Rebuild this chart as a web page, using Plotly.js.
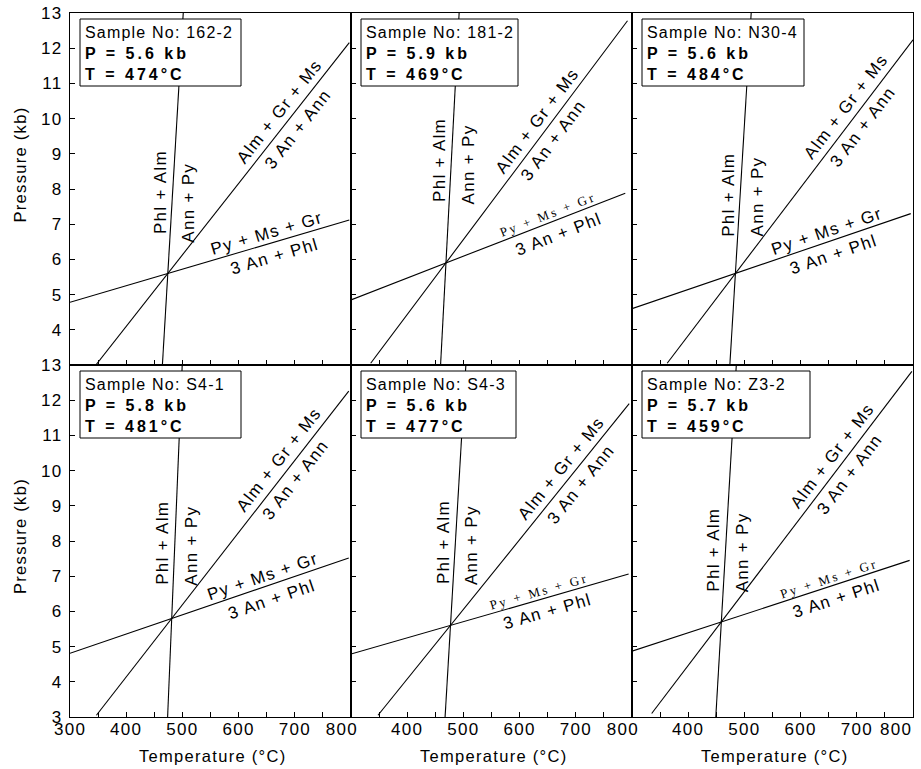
<!DOCTYPE html>
<html>
<head>
<meta charset="utf-8">
<script src="https://cdn.plot.ly/plotly-3.0.1.min.js"></script>
<style>
  html, body { margin: 0; padding: 0; background: #ffffff; }
  #chart { width: 921px; height: 769px; }
  svg text { letter-spacing: 1.3px; }
</style>
</head>
<body>
<div id="chart"></div>
<script>
// Samples and the P–T point where the three reactions intersect
const samples      = ['162-2', '181-2', 'N30-4', 'S4-1', 'S4-3', 'Z3-2'];
const pressureKb   = [5.6, 5.9, 5.6, 5.8, 5.6, 5.7];
const temperatureC = [474, 469, 484, 481, 477, 459];

// Phl + Alm = Ann + Py (steep curve), end points
const phlAlmT = [[464.4, 501.5], [459.4, 492.4], [474.1, 512.1], [473.7, 499.7], [467.4, 504.4], [449.1, 485.6]];
const phlAlmP = [[3, 13], [3, 13], [3, 13], [3, 13], [3, 13], [3, 13]];

// Alm + Gr + Ms = 3 An + Ann, end points
const almGrT = [[346, 797], [335, 792], [362.6, 800], [347, 796], [348, 795], [335, 798]];
const almGrP = [[3.0, 12.16], [3.05, 12.78], [3.05, 12.24], [3.05, 12.26], [3.05, 11.9], [3.1, 12.82]];

// Py + Ms + Gr = 3 An + Phl, end points
const pyMsT = [[300, 797], [300, 788], [300, 796], [300, 796], [300, 794], [300, 794]];
const pyMsP = [[4.78, 7.12], [4.85, 7.88], [4.60, 7.30], [4.81, 7.52], [4.79, 7.06], [4.87, 7.45]];

// Axis ticks
const tempTicks  = [300, 350, 400, 450, 500, 550, 600, 650, 700, 750, 800];
const pressTicks = [3, 4, 5, 6, 7, 8, 9, 10, 11, 12, 13];

// Where each reaction label sits along its curve, plus box widths
const labelSpots = [
  { steep: [7.88, 7.64], alm: [690, 687], py: [655, 657], smallPy: false, boxW: 161 },
  { steep: [8.82, 8.73], alm: [648, 642], py: [655, 660], smallPy: true,  boxW: 157 },
  { steep: [7.82, 7.82], alm: [699, 693], py: [652, 651], smallPy: false, boxW: 162 },
  { steep: [7.93, 7.88], alm: [690, 684], py: [649, 651], smallPy: false, boxW: 161 },
  { steep: [7.96, 7.92], alm: [691, 691], py: [638, 643], smallPy: true,  boxW: 155 },
  { steep: [7.72, 7.72], alm: [673, 669], py: [655, 657], smallPy: true,  boxW: 168 }
];

const FONT = 'Liberation Sans, Arial, Helvetica, sans-serif';
const SERIF = 'Liberation Serif, Times New Roman, serif';
const W = 921, H = 769;
const M = { l: 70, r: 8, t: 13, b: 52 };
const plotW = W - M.l - M.r;
const plotH = H - M.t - M.b;
const pxPerT = plotW / 3 / 500;
const pxPerP = plotH / 2 / 10;

const labelFont = { family: FONT, size: 17, color: '#000' };
const tickFont  = { family: FONT, size: 17, color: '#000' };
const titleFont = { family: FONT, size: 16.5, color: '#000' };

const traces = [];
const annotations = [];
const shapes = [];
const layout = {
  width: W, height: H,
  margin: M,
  paper_bgcolor: '#ffffff',
  plot_bgcolor: '#ffffff',
  showlegend: false,
  font: { family: FONT, size: 16, color: '#000' }
};

function lineAngle(T, P) {
  return Math.atan2((P[1] - P[0]) * pxPerP, (T[1] - T[0]) * pxPerT);
}
function pointAtT(T, P, t) {
  const f = (t - T[0]) / (T[1] - T[0]);
  return [t, P[0] + f * (P[1] - P[0])];
}
function pointAtP(T, P, p) {
  const f = (p - P[0]) / (P[1] - P[0]);
  return [T[0] + f * (T[1] - T[0]), p];
}

for (let i = 0; i < samples.length; i++) {
  const row = i < 3 ? 0 : 1;
  const col = i % 3;
  const sfx = i === 0 ? '' : String(i + 1);
  const xa = 'x' + sfx, ya = 'y' + sfx;

  // the last column's 800 sits flush with the right frame, drawn separately below
  const tickText = tempTicks.map(v => {
    if (v % 100 !== 0) return '';
    if (v === 300 && col > 0) return '';
    if (v === 800) return col === 2 ? '' : '800\u00a0\u00a0\u00a0';
    return String(v);
  });
  const pTickText = pressTicks.map(v => (v === 3 && row === 0) ? '' : String(v));

  layout['xaxis' + sfx] = {
    domain: [col / 3, (col + 1) / 3],
    anchor: ya,
    range: [300, 800],
    showgrid: false, zeroline: false,
    showline: true, mirror: true, linecolor: '#000', linewidth: 1.2,
    ticks: 'inside', ticklen: 5, tickwidth: 1, tickcolor: '#000',
    tickmode: 'array', tickvals: tempTicks, ticktext: tickText,
    showticklabels: row === 1,
    ticklabeloverflow: 'allow',
    ticklabelstandoff: -4,
    tickfont: tickFont
  };
  layout['yaxis' + sfx] = {
    domain: row === 0 ? [0.5, 1] : [0, 0.5],
    anchor: xa,
    range: [3, 13],
    showgrid: false, zeroline: false,
    showline: true, mirror: true, linecolor: '#000', linewidth: 1.2,
    ticks: 'inside', ticklen: 5, tickwidth: 1, tickcolor: '#000',
    tickmode: 'array', tickvals: pressTicks, ticktext: pTickText,
    showticklabels: col === 0,
    ticklabeloverflow: 'allow',
    ticklabelstandoff: 3,
    tickfont: tickFont
  };

  const lineStyle = { color: '#000', width: 1.1 };
  [[phlAlmT[i], phlAlmP[i]], [almGrT[i], almGrP[i]], [pyMsT[i], pyMsP[i]]].forEach(([T, P]) => {
    traces.push({ type: 'scatter', mode: 'lines', x: T, y: P, xaxis: xa, yaxis: ya,
                  line: lineStyle, hoverinfo: 'skip' });
  });

  const spot = labelSpots[i];
  const lab = (txt, pt, ang, d, rot, font) => {
    annotations.push({
      xref: xa, yref: ya, x: pt[0], y: pt[1], text: txt, showarrow: false,
      textangle: rot, xanchor: 'center', yanchor: 'middle',
      xshift: -d * Math.sin(ang), yshift: d * Math.cos(ang),
      font: font || labelFont
    });
  };

  // steep curve labels, reading upward
  const aS = lineAngle(phlAlmT[i], phlAlmP[i]);
  lab('Phl + Alm', pointAtP(phlAlmT[i], phlAlmP[i], spot.steep[0]), aS, 12, -90);
  lab('Ann + Py', pointAtP(phlAlmT[i], phlAlmP[i], spot.steep[1]), aS, -17, -90);

  // Alm curve labels
  const aA = lineAngle(almGrT[i], almGrP[i]);
  const degA = -aA * 180 / Math.PI;
  lab('Alm + Gr + Ms', pointAtT(almGrT[i], almGrP[i], spot.alm[0]), aA, 12.5, degA);
  lab('3 An + Ann', pointAtT(almGrT[i], almGrP[i], spot.alm[1]), aA, -13, degA);

  // Py curve labels
  const aP = lineAngle(pyMsT[i], pyMsP[i]);
  const degP = -aP * 180 / Math.PI;
  if (spot.smallPy) {
    lab('<span style="letter-spacing:2.5px">Py + Ms + Gr</span>',
        pointAtT(pyMsT[i], pyMsP[i], spot.py[0]), aP, 8, degP,
        { family: SERIF, size: 13, color: '#000' });
  } else {
    lab('Py + Ms + Gr', pointAtT(pyMsT[i], pyMsP[i], spot.py[0]), aP, 10, degP);
  }
  lab('3 An + Phl', pointAtT(pyMsT[i], pyMsP[i], spot.py[1]), aP, -14, degP);

  // sample box
  shapes.push({
    type: 'rect', xref: xa, yref: ya, layer: 'above',
    xsizemode: 'pixel', ysizemode: 'pixel', xanchor: 300, yanchor: 13,
    x0: 10, x1: 10 + spot.boxW, y0: -6, y1: -73,
    fillcolor: '#ffffff', line: { color: '#000', width: 1 }
  });
  const sp = 'letter-spacing:3px';
  annotations.push({
    xref: xa, yref: ya, x: 300, y: 13, xanchor: 'left', yanchor: 'top', align: 'left',
    xshift: 13, yshift: -9, showarrow: false,
    text: '<span style="letter-spacing:1.2px">Sample No: ' + samples[i] + '</span>' +
          '<br><b><span style="' + sp + '">P = ' + pressureKb[i].toFixed(1) + ' kb</span></b>' +
          '<br><b><span style="' + sp + '">T = ' + temperatureC[i] + '°C</span></b>',
    font: { family: FONT, size: 16, color: '#000' }
  });
}

// right-most 800 tick label, kept inside the frame's right edge
annotations.push({
  xref: 'x6', yref: 'y6 domain', x: 800, y: 0, xanchor: 'right', yanchor: 'middle',
  xshift: 1, yshift: -12, showarrow: false,
  text: '800', font: tickFont
});

// axis titles
[['y', 24], ['y4', 4.5]].forEach(([yr, shift]) => {
  annotations.push({
    xref: 'paper', yref: yr + ' domain', x: (19.5 - M.l) / plotW, y: 0.5, yshift: shift,
    xanchor: 'center', yanchor: 'middle', textangle: -90, showarrow: false,
    text: 'Pressure (kb)', font: titleFont
  });
});
['x4', 'x5', 'x6'].forEach(xr => {
  annotations.push({
    xref: xr + ' domain', yref: 'paper', x: 0.5, y: (H - M.b - 756) / plotH, xshift: 2,
    xanchor: 'center', yanchor: 'middle', showarrow: false,
    text: 'Temperature (°C)', font: titleFont
  });
});

layout.annotations = annotations;
layout.shapes = shapes;

Plotly.newPlot('chart', traces, layout, { displayModeBar: false, staticPlot: true });
</script>
</body>
</html>
